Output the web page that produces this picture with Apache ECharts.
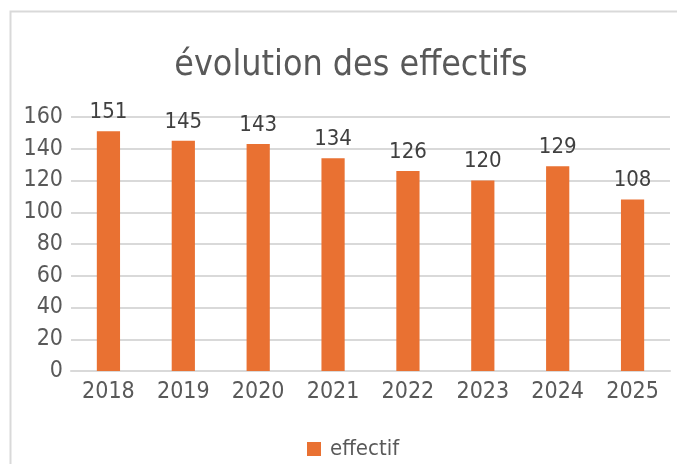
<!DOCTYPE html>
<html><head><meta charset="utf-8">
<script src="https://cdn.jsdelivr.net/npm/echarts@6/dist/echarts.min.js"></script>
<style>html,body{margin:0;padding:0;background:#fff}#c{width:677px;height:464px}</style>
</head><body><div id="c"></div>
<script>
const title = "évolution des effectifs";
const seriesName = "effectif";
const categories = ["2018","2019","2020","2021","2022","2023","2024","2025"];
const values = [151,145,143,134,126,120,129,108];
const yTicks = {min:0, max:160, interval:20};

const FONT = "'DejaVu Sans Condensed', 'DejaVu Sans', sans-serif";
const TXT = "#595959";
const chart = echarts.init(document.getElementById('c'), null, {renderer:'canvas'});
chart.setOption({
  animation:false,
  textStyle:{fontFamily:FONT},
  graphic:[{type:'rect', shape:{x:10.5,y:11.5,width:700,height:500}, style:{fill:'none',stroke:'#d9d9d9',lineWidth:2}, z:-1}],
  title:{text:title, left:346, textAlign:'center', top:43,
    textStyle:{fontFamily:FONT, fontSize:35.5, fontWeight:'normal', color:TXT}},
  legend:{top:433, left:302, itemWidth:14, itemHeight:14, itemGap:10,
    icon:'rect', textStyle:{fontFamily:FONT, fontSize:22, color:TXT, padding:[0,0,0,4]}, data:[seriesName]},
  grid:{left:71, right:7, top:117, bottom:93, containLabel:false},
  xAxis:{type:'category', data:categories,
    axisLine:{lineStyle:{color:'#d9d9d9', width:2}}, axisTick:{show:false},
    axisLabel:{fontFamily:FONT, fontSize:23, color:TXT, margin:10}},
  yAxis:{type:'value', min:yTicks.min, max:yTicks.max, interval:yTicks.interval,
    axisLine:{show:false}, axisTick:{show:false},
    splitLine:{lineStyle:{color:'#d9d9d9', width:2}},
    axisLabel:{fontFamily:FONT, fontSize:23, color:TXT, margin:8}},
  series:[{name:seriesName, type:'bar', data:values, barWidth:'31%',
    itemStyle:{color:'#E97132'},
    label:{show:true, position:'top', distance:8, fontFamily:FONT, fontSize:22, color:'#404040'}}]
});
</script></body></html>
